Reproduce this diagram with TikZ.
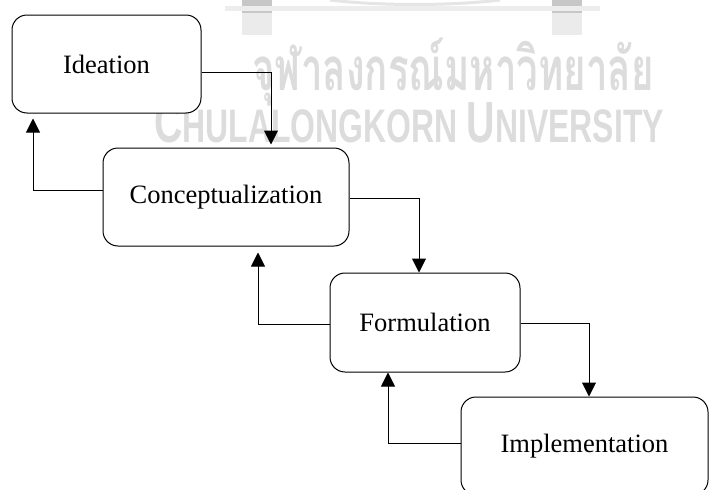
\documentclass[tikz,border=0pt]{standalone}
\usepackage{fontspec}
\setmainfont{Liberation Serif}
\newfontfamily\thaimark[Script=Thai, FakeStretch=0.64]{Loma}
\newfontfamily\latinmark[FakeStretch=0.68]{Liberation Sans}
\usetikzlibrary{arrows.meta,positioning}
\definecolor{markgray}{HTML}{DCDCDC}

\begin{document}
\begin{tikzpicture}[x=1pt, y=-1pt,
    stage/.style={draw, line width=1pt, rounded corners=15pt, fill=white,
      minimum height=98pt, inner sep=0pt,
      font=\fontsize{26.5pt}{30pt}\selectfont},
    flow/.style={-{Triangle[length=14pt,width=14pt]}, line width=1pt}]
            \useasboundingbox (0,0) rectangle (710,490);

            % faded watermark behind the chart
            \fill[black!22] (242,0) rectangle (272,13);
            \fill[black!22] (552,0) rectangle (582,13);
            \fill[black!8] (242,13) rectangle (272,35);
            \fill[black!8] (552,13) rectangle (582,35);
            \fill[black!7] (225,6) rectangle (600,11);
            \draw[black!10, line width=3pt] (330,0) .. controls (380,6) and (450,6) .. (500,0);
            \node[anchor=base, text=markgray] (thaiwm) at (453,90)
              {\thaimark\bfseries\fontsize{60pt}{60pt}\selectfont จุฬาลงกรณ์มหาวิทยาลัย};
            \node[anchor=base, text=markgray] (latwm) at (409,142)
              {\latinmark\bfseries\fontsize{58pt}{58pt}\selectfont C\fontsize{47pt}{47pt}\selectfont HULALONGKORN
               \fontsize{58pt}{58pt}\selectfont U\fontsize{47pt}{47pt}\selectfont NIVERSITY};

            \node[stage, minimum width=189pt] (idea) at (106.5,64) {Ideation};
            \node[stage, minimum width=246pt] (concept) at (226,197) {Conceptualization};
            \node[stage, minimum width=190pt, minimum height=99pt] (formula) at (425,322.5) {Formulation};
            \node[stage, minimum width=247pt] (implement) at (584.5,446) {Implementation};

            \draw[flow, shorten >=3pt] ([yshift=-8pt]idea.east) -| ([xshift=45pt]concept.north);
            \draw[flow] ([yshift=-1pt]concept.east) -| ([xshift=-6pt]formula.north);
            \draw[flow] ([yshift=-0.5pt]formula.east) -| ([xshift=4.5pt]implement.north);

            \draw[flow, shorten >=5pt] ([yshift=7pt]concept.west) -| ([xshift=-73.5pt]idea.south);
            \draw[flow, shorten >=6pt] ([yshift=-1.5pt]formula.west) -| ([xshift=32pt]concept.south);
            \draw[flow] ([yshift=3pt]implement.west) -| ([xshift=-37pt]formula.south);
        \end{tikzpicture}
\end{document}
